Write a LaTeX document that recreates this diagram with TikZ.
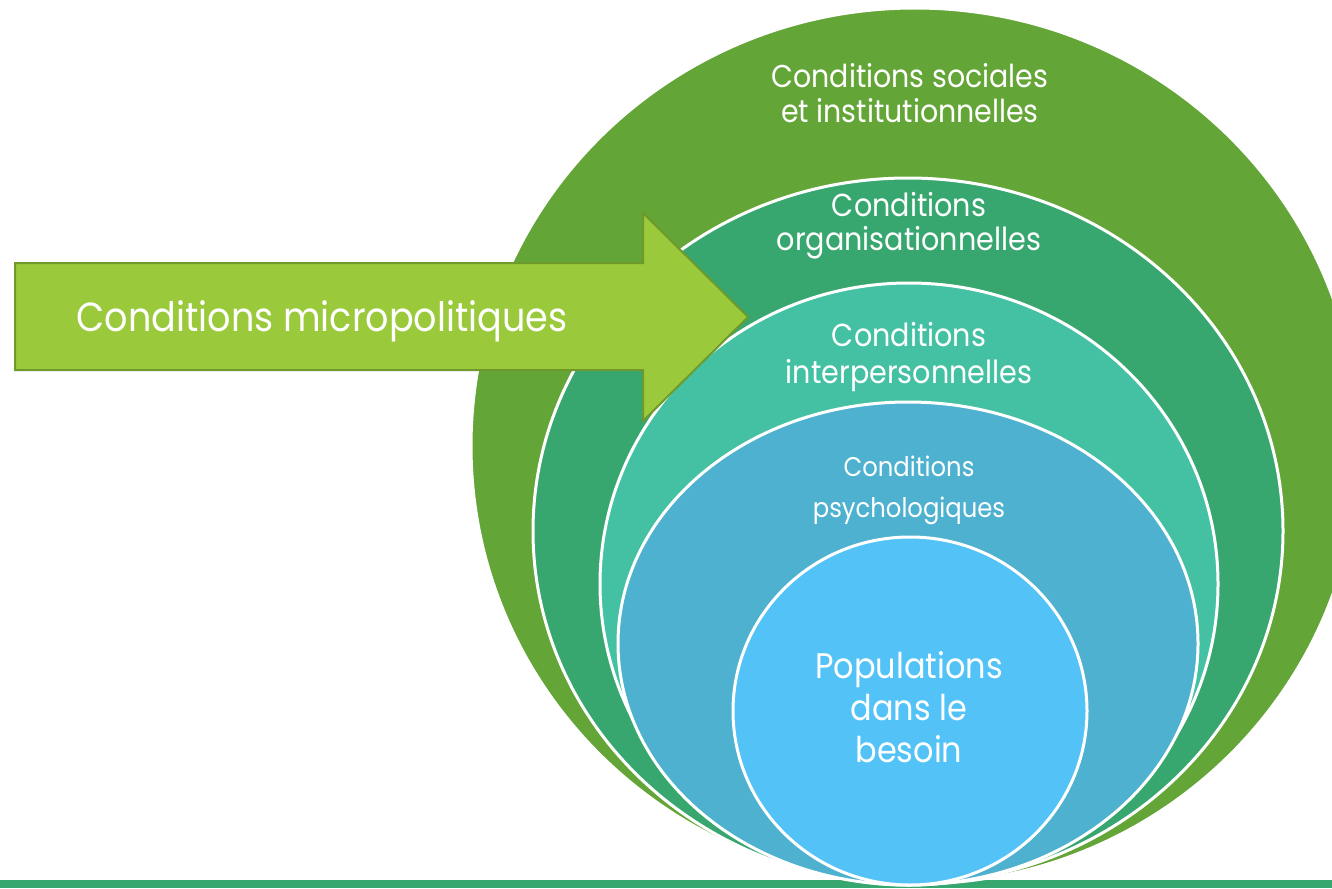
\documentclass[tikz,border=0pt]{standalone}
\usepackage{fontspec}
\setmainfont{Poppins}[FakeStretch=0.9]
\usetikzlibrary{shapes.geometric}

\definecolor{socialgreen}{HTML}{63A537}
\definecolor{orggreen}{HTML}{37A76F}
\definecolor{interteal}{HTML}{44C1A3}
\definecolor{psychblue}{HTML}{4EB1CF}
\definecolor{popblue}{HTML}{53C3F7}
\definecolor{microfill}{HTML}{9ACA3C}
\definecolor{microline}{HTML}{6E9A2B}

\begin{document}
\begin{tikzpicture}[x=1pt,y=-1pt,
	ring/.style={ellipse,draw=white,line width=3pt,inner sep=0pt},
	ringtext/.style={text=white,align=center,inner sep=0pt}]

	\path[use as bounding box,clip] (0,0) rectangle (1332,888);
	\fill[orggreen] (0,880) rectangle (1332,888);

	\node[ring,fill=socialgreen,minimum width=888pt,minimum height=876pt] (social) at (915,446) {};
	\node[ring,fill=orggreen,minimum width=750pt,minimum height=706pt]    (org)    at (908,531) {};
	\node[ring,fill=interteal,minimum width=618pt,minimum height=602pt]   (inter)  at (909,584) {};
	\node[ring,fill=psychblue,minimum width=580pt,minimum height=483pt]   (psych)  at (908,643.5) {};
	\node[ring,fill=popblue,minimum width=354pt,minimum height=348pt]     (pop)    at (910,711) {};

	\node[ringtext,font=\fontsize{31.6}{35}\selectfont] (social-text) at (910,93)  {Conditions sociales\\et institutionnelles};
	\node[ringtext,font=\fontsize{31.8}{34}\selectfont] (org-text)    at (909,226) {Conditions\\organisationnelles};
	\node[ringtext,font=\fontsize{31.8}{37}\selectfont] (inter-text)  at (909,357) {Conditions\\interpersonnelles};
	\node[ringtext,font=\fontsize{27}{41}\selectfont]   (psych-text)  at (909,490) {Conditions\\psychologiques};
	\node[ringtext,font=\fontsize{35.5}{42}\selectfont] (pop-text)    at (909,707) {Populations\\dans le\\besoin};

	\draw[fill=microfill,draw=microline,line width=2pt]
		(15,263) -- (643,263) -- (643,213) -- (748,317) -- (643,421) -- (643,370) -- (15,370) -- cycle;
	\node[ringtext,font=\fontsize{40.6}{44}\selectfont] (micro-text) at (322,321) {Conditions micropolitiques};

\end{tikzpicture}
\end{document}
